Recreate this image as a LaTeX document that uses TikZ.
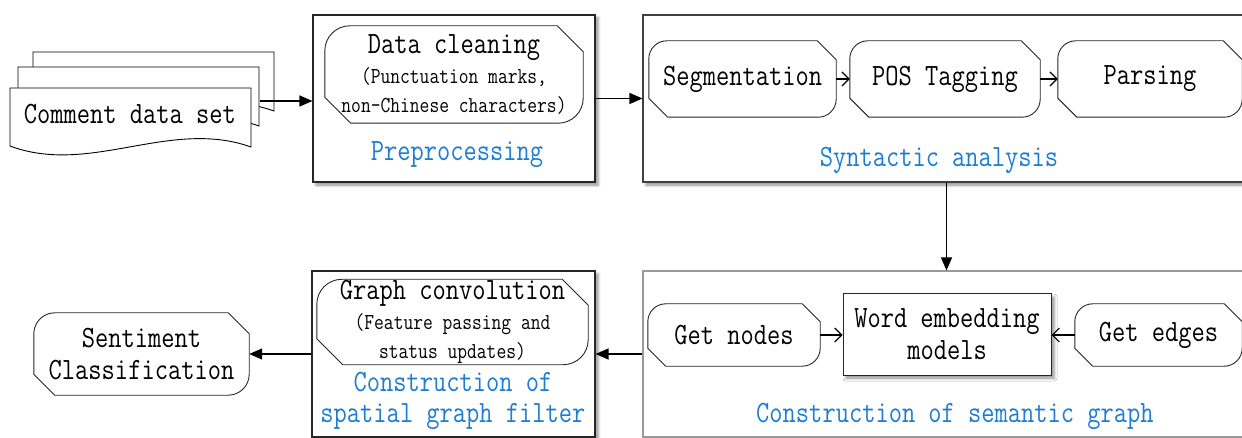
\documentclass[tikz,border=0pt]{standalone}
\usepackage{fontspec}
\setmainfont{Latin Modern Mono}[FakeStretch=0.83]
\usetikzlibrary{arrows.meta,shadows.blur,calc}
\definecolor{lblue}{RGB}{30,125,210}
\tikzset{
  big/.style={font=\fontsize{31}{32}\selectfont},
  lbl/.style={text=lblue, font=\fontsize{31}{31}\selectfont, align=center, inner sep=0pt},
  octn/.style={inner sep=0pt, align=center},
  octline/.style={draw=black!85, line width=0.9pt},
  docline/.style={draw=black, line width=0.9pt},
  bigbox/.style={draw=black!85, line width=1.1pt, fill=white, inner sep=0pt},
  shad/.style={blur shadow={shadow xshift=3pt, shadow yshift=-3pt, shadow blur radius=3pt, shadow opacity=45}},
  fillarr/.style={line width=1.3pt, -{Triangle[length=13pt,width=11pt]}},
  openarr/.style={line width=1.2pt, -{Straight Barb[length=7pt,width=14pt,line width=1.2pt]}},
}
\newcommand\ocdraw[3]{%
  \draw[octline] ([yshift=-#2]#1.north west) arc[start angle=180,end angle=90,radius=#2]
    -- ([xshift=-#3]#1.north east) -- ([yshift=-#3]#1.north east)
    -- ([yshift=#2]#1.south east) arc[start angle=0,end angle=-90,radius=#2]
    -- ([xshift=#3]#1.south west) -- ([yshift=#3]#1.south west) -- cycle;}
\newcommand\docsheet[2]{%
  \filldraw[docline,fill=white] (10+#1,-88+#2) -- (251+#1,-88+#2) -- (251+#1,-147+#2)
    .. controls (170+#1,-118+#2) and (90+#1,-176+#2) .. (10+#1,-146+#2) -- cycle;}
\begin{document}
\begin{tikzpicture}[x=1pt,y=1pt]
\useasboundingbox (0,0) rectangle (1242,-438);
\begin{scope}
\clip (0,0) rectangle (1242,-438);
% big boxes
\node[bigbox, shad, minimum width=282pt, minimum height=167pt] (prep) at (454,-98.5) {};
\node[bigbox, draw=black!75, shad, minimum width=607pt, minimum height=167pt] (syn) at (946.5,-98.5) {};
\node[bigbox, draw=black!40, minimum width=607pt, minimum height=166pt] (sem) at (946.5,-354) {};
\node[bigbox, shad, minimum width=283pt, minimum height=166pt] (spa) at (453.5,-354) {};
\end{scope}

% document stack
\docsheet{23}{36}
\docsheet{8}{21}
\docsheet{0}{0}
\node[big, inner sep=0pt] (doc) at (130,-114) {Comment data set};
\coordinate (docout) at (260,-101);

% preprocessing
\node[octn, minimum width=258pt, minimum height=97pt, font=\fontsize{22.9}{29.5}\selectfont] (dc) at (454,-74.5)
  {{\fontsize{31}{29.5}\selectfont Data cleaning}\\(Punctuation marks,\\non-Chinese characters)};
\ocdraw{dc}{25pt}{26pt}
\node[lbl] (prepl) at (457,-155) {Preprocessing};

% syntactic analysis
\node[octn, big, minimum width=187pt, minimum height=76pt] (seg) at (742.5,-79) {Segmentation};
\ocdraw{seg}{18pt}{19pt}
\node[octn, big, minimum width=190pt, minimum height=76pt] (pos) at (945,-79) {POS Tagging};
\ocdraw{pos}{18pt}{19pt}
\node[octn, big, minimum width=184pt, minimum height=76pt] (par) at (1150,-79) {Parsing};
\ocdraw{par}{18pt}{19pt}
\node[lbl] (synl) at (939,-160) {Syntactic analysis};

% semantic graph
\node[octn, big, minimum width=172pt, minimum height=62pt] (gn) at (734,-335) {Get nodes};
\ocdraw{gn}{18pt}{18pt}
\node[bigbox, shad, line width=1pt, big, align=center, minimum width=208pt, minimum height=81pt] (wem) at (947,-334.5) {Word embedding\\models};
\node[octn, big, minimum width=167pt, minimum height=62pt] (ge) at (1158.5,-335) {Get edges};
\ocdraw{ge}{18pt}{18pt}
\node[lbl] (seml) at (955,-416) {Construction of semantic graph};

% spatial graph filter
\node[octn, minimum width=271pt, minimum height=85pt, font=\fontsize{22.9}{29.5}\selectfont] (gc) at (452.5,-322)
  {{\fontsize{31}{29.5}\selectfont Graph convolution}\\(Feature passing and\\status updates)};
\ocdraw{gc}{25pt}{26pt}
\node[lbl] (spal) at (453,-401) {Construction of\\spatial graph filter};

% sentiment
\node[octn, big, align=center, minimum width=215pt, minimum height=82pt] (sc) at (141.5,-354) {Sentiment\\Classification};
\ocdraw{sc}{21pt}{21pt}

% connectors
\draw[fillarr] (docout) -- (docout -| prep.west);
\draw[fillarr] (prep.east) -- (prep.east -| syn.west);
\draw[fillarr] (syn.south) -- (sem.north);
\draw[fillarr] (sem.west) -- (spa.east);
\draw[fillarr] (spa.west) -- (sc.east);
\draw[openarr] (seg.east) -- (pos.west);
\draw[openarr] (pos.east) -- (par.west);
\draw[openarr] (gn.east) -- (gn.east -| wem.west);
\draw[openarr] (ge.west) -- (ge.west -| wem.east);
\end{tikzpicture}
\end{document}
